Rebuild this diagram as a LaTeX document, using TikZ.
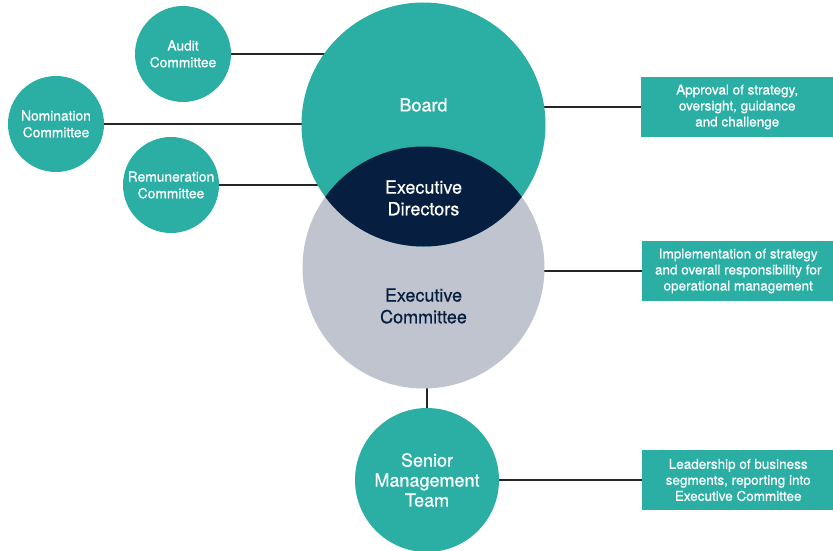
\documentclass[tikz,border=0pt]{standalone}
\usepackage{fontspec}
\setmainfont[FakeBold=1.5]{TeX Gyre Heros}
\newfontfamily\medfont[FakeBold=0.6]{TeX Gyre Heros}
\definecolor{tealc}{HTML}{2BAFA4}
\definecolor{navyc}{HTML}{061E3F}
\definecolor{greyc}{HTML}{BFC4CF}
\tikzset{
  conn/.style={draw=black!85, line width=1.2pt},
  smallc/.style={circle, fill=tealc, minimum size=96pt, inner sep=0pt, text=white, align=center, font=\medfont\fontsize{13.8}{16.7}\selectfont},
  bigc/.style={circle, minimum size=244pt, inner sep=0pt},
  biglbl/.style={align=center, font=\medfont\fontsize{18}{21.7}\selectfont},
  infobox/.style={rectangle, fill=tealc, minimum width=192pt, minimum height=60pt, inner sep=0pt, text=white, align=center, font=\medfont\fontsize{13.5}{16}\selectfont, anchor=west},
}
\begin{document}
\begin{tikzpicture}[x=1pt,y=-1pt]
\useasboundingbox (0,0) rectangle (833,551);
% node positions
\coordinate (bc) at (423.5,124.5);
\coordinate (ec) at (423.5,267.5);
\node[smallc] (audit) at (183,54) {Audit\\Committee};
\node[smallc] (nom) at (56,124) {Nomination\\Committee};
\node[smallc] (rem) at (171,185) {Remuneration\\Committee};
\node[infobox] (box1) at (641,107) {Approval of strategy,\\oversight, guidance\\and challenge};
\node[infobox] (box2) at (642,271) {Implementation of strategy\\and overall responsibility for\\operational management};
\node[infobox] (box3) at (642,480) {Leadership of business\\segments, reporting into\\Executive Committee};
\node[smallc, minimum size=144pt, font=\medfont\fontsize{18}{20}\selectfont] (smt) at (427,480) {Senior\\Management\\Team};
% connectors (behind the big circles)
\draw[conn] (audit.east) -- (audit.east -| bc);
\draw[conn] (nom.east) -- (nom.east -| bc);
\draw[conn] (rem.east) -- (rem.east -| bc);
\draw[conn] (box1.west) -- (box1.west -| bc);
\draw[conn] (box2.west) -- (box2.west -| ec);
\draw[conn] (box3.west) -- (smt.east);
\draw[conn] (smt.north) -- (smt.north |- ec);
% big circles
\node[bigc, fill=greyc, minimum size=242pt] (exec) at (ec) {};
\node[bigc, fill=tealc] (board) at (bc) {};
\begin{scope}
  \clip (bc) circle (122);
  \fill[navyc] (ec) circle (121);
\end{scope}
\node[biglbl, text=white] (boardtxt) at (423.5,105) {Board};
\node[biglbl, text=white] (edtxt) at (423.5,198) {Executive\\Directors};
\node[biglbl, text=navyc] (ectxt) at (423.5,306) {Executive\\Committee};
\end{tikzpicture}
\end{document}
